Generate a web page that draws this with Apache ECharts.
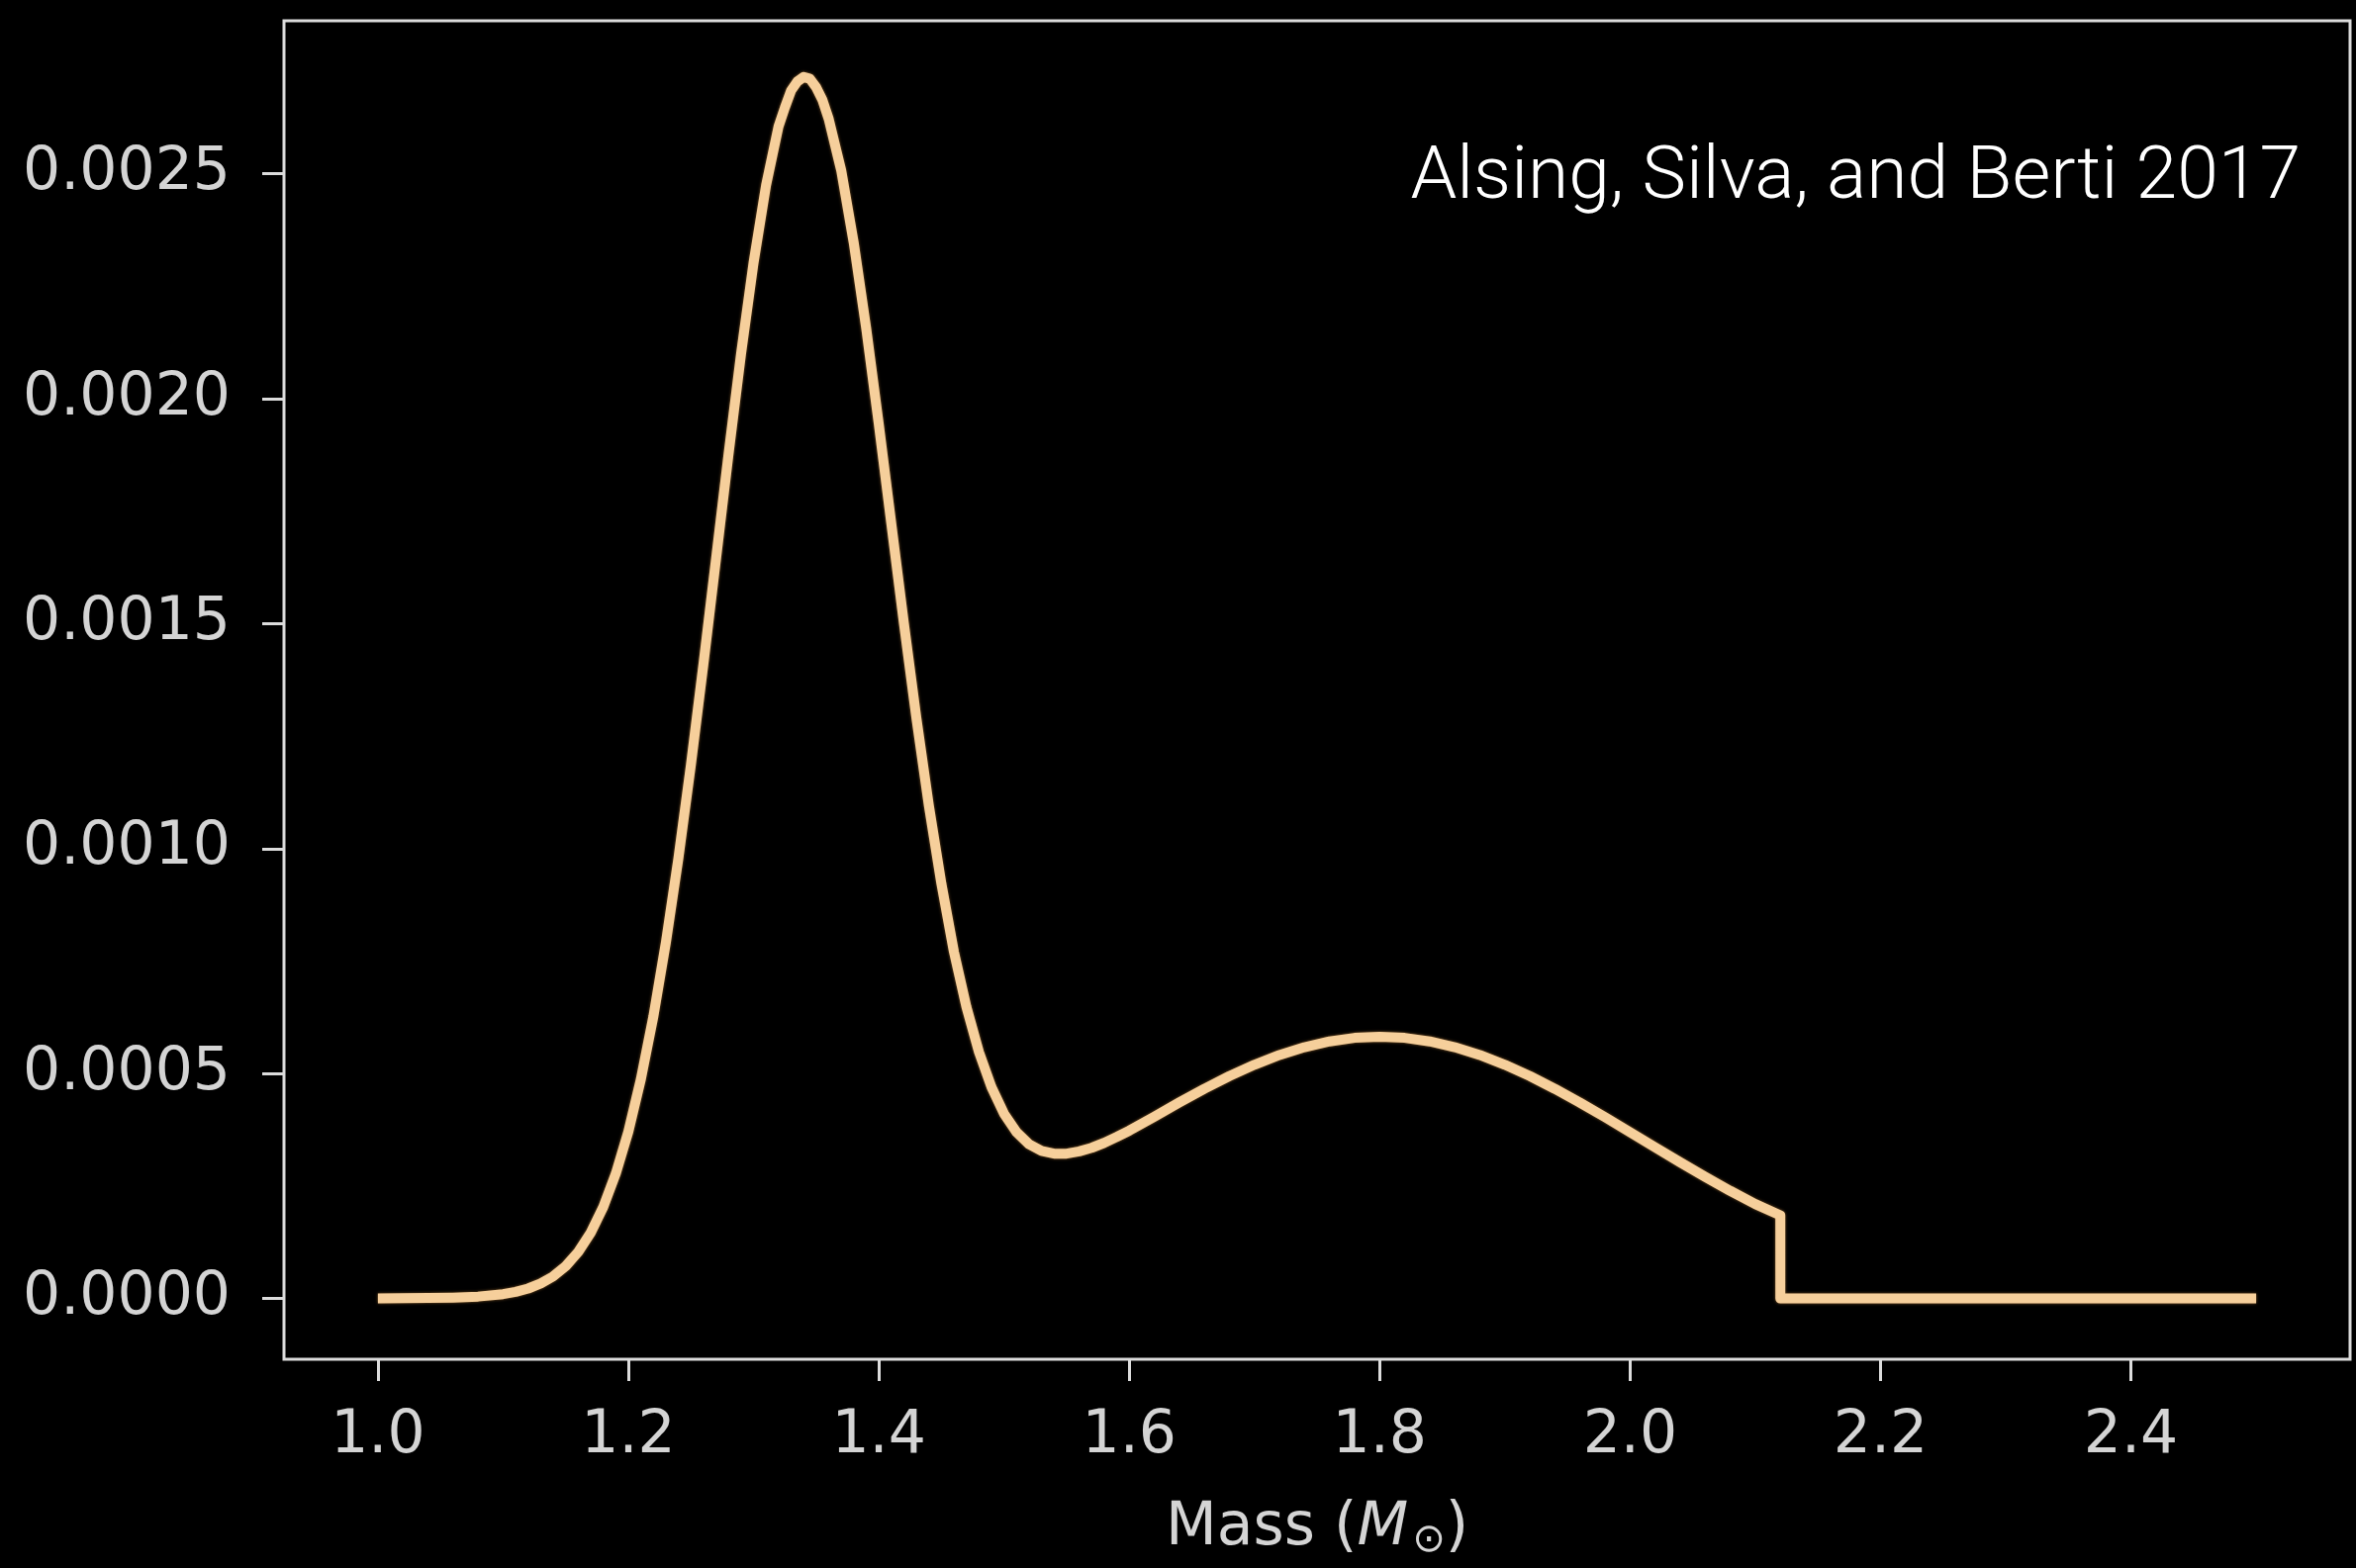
<!DOCTYPE html>
<html>
<head>
<meta charset="utf-8">
<script src="https://cdn.jsdelivr.net/npm/echarts@6/dist/echarts.min.js"></script>
<style>
  html, body { margin: 0; padding: 0; background: #000; }
  #chart { width: 2381px; height: 1585px; }
</style>
</head>
<body>
<div id="chart"></div>
<script>
// Neutron-star mass distribution: sampled mass grid (solar masses)
const mass = [
  1.00, 1.02, 1.04, 1.06, 1.08, 1.10,
  1.11, 1.12, 1.13, 1.14, 1.15, 1.16, 1.17, 1.18, 1.19, 1.20,
  1.21, 1.22, 1.23, 1.24, 1.25, 1.26, 1.27, 1.28, 1.29, 1.30,
  1.31, 1.32, 1.325, 1.33, 1.335, 1.34, 1.345, 1.35, 1.355, 1.36, 1.37, 1.38, 1.39, 1.40,
  1.41, 1.42, 1.43, 1.44, 1.45, 1.46, 1.47, 1.48, 1.49, 1.50,
  1.51, 1.52, 1.53, 1.54, 1.55, 1.56, 1.57, 1.58, 1.59, 1.60,
  1.62, 1.64, 1.66, 1.68, 1.70, 1.72, 1.74, 1.76, 1.78, 1.80,
  1.82, 1.84, 1.86, 1.88, 1.90, 1.92, 1.94, 1.96, 1.98, 2.00,
  2.02, 2.04, 2.06, 2.08, 2.10, 2.12, 2.12, 2.50
];

// Probability density at each mass
const density = [
  0.0000004, 0.0000007, 0.0000011, 0.0000021, 0.0000043, 0.0000097,
  0.0000147, 0.0000222, 0.0000333, 0.0000492, 0.0000719, 0.0001036, 0.0001465, 0.0002035, 0.0002776, 0.0003708,
  0.0004872, 0.0006268, 0.0007916, 0.0009786, 0.0011869, 0.0014104, 0.0016431, 0.0018761, 0.0020995, 0.0023022,
  0.0024743, 0.0026057, 0.0026470, 0.0026850, 0.0027050, 0.0027150, 0.0027110, 0.0026920, 0.0026640, 0.0026220, 0.0025075, 0.0023468, 0.0021555, 0.0019439,
  0.0017228, 0.0015022, 0.0012913, 0.0010959, 0.0009222, 0.0007709, 0.0006480, 0.0005480, 0.0004700, 0.0004110,
  0.0003700, 0.0003430, 0.0003280, 0.0003220, 0.0003220, 0.0003270, 0.0003350, 0.0003460, 0.0003590, 0.0003730,
  0.0004040, 0.0004357, 0.0004661, 0.0004943, 0.0005196, 0.0005413, 0.0005587, 0.0005715, 0.0005794, 0.0005820,
  0.0005794, 0.0005715, 0.0005587, 0.0005413, 0.0005196, 0.0004943, 0.0004660, 0.0004354, 0.0004031, 0.0003698,
  0.0003362, 0.0003029, 0.0002705, 0.0002393, 0.0002098, 0.0001850, 0, 0
];

// Tick positions on each axis
const xTicks = [1.0, 1.2, 1.4, 1.6, 1.8, 2.0, 2.2, 2.4];
const yTicks = [0, 0.0005, 0.0010, 0.0015, 0.0020, 0.0025];

const citation = 'Alsing, Silva, and Berti 2017';

const points = mass.map((m, i) => [m, density[i]]);

const frameColor = '#dcdcdc';
const labelColor = '#d4d4d4';
const tickFont = 'DejaVu Sans';

const chart = echarts.init(document.getElementById('chart'), null, { renderer: 'canvas' });

chart.setOption({
  backgroundColor: '#000',
  animation: false,
  grid: {
    left: 287, right: 6, top: 21, bottom: 211,
    show: true,
    borderColor: frameColor,
    borderWidth: 3,
    backgroundColor: 'transparent'
  },
  xAxis: {
    type: 'value',
    min: 0.925,
    max: 2.575,
    axisLine: { show: false, onZero: false },
    splitLine: { show: false },
    axisTick: {
      show: true,
      inside: false,
      customValues: xTicks,
      length: 22,
      lineStyle: { color: frameColor, width: 3 }
    },
    axisLabel: {
      customValues: xTicks,
      formatter: v => v.toFixed(1),
      color: labelColor,
      fontFamily: tickFont,
      fontSize: 60,
      margin: 48
    },
    name: 'Mass ({it|M}{sub|⊙})',
    nameLocation: 'middle',
    nameGap: 138,
    nameTextStyle: {
      color: labelColor,
      fontFamily: tickFont,
      fontSize: 60,
      rich: {
        it: { fontFamily: tickFont, fontStyle: 'italic', fontSize: 60, color: labelColor },
        sub: { fontFamily: tickFont, fontSize: 40, color: labelColor, padding: [26, 0, 0, 4] }
      }
    }
  },
  yAxis: {
    type: 'value',
    min: -0.000135,
    max: 0.00284,
    axisLine: { show: false, onZero: false },
    splitLine: { show: false },
    axisTick: {
      show: true,
      inside: false,
      customValues: yTicks,
      length: 22,
      lineStyle: { color: frameColor, width: 3 }
    },
    axisLabel: {
      customValues: yTicks,
      formatter: v => v.toFixed(4),
      color: labelColor,
      fontFamily: tickFont,
      fontSize: 60,
      margin: 54
    }
  },
  series: [{
    type: 'line',
    data: points,
    showSymbol: false,
    smooth: false,
    clip: true,
    lineStyle: {
      color: '#f6cf9b',
      width: 10,
      join: 'round',
      shadowColor: 'rgba(190, 130, 60, 0.7)',
      shadowBlur: 3
    }
  }],
  graphic: [{
    type: 'text',
    right: 56,
    top: 144,
    style: {
      text: citation,
      fill: '#ffffff',
      font: '300 75px Roboto'
    }
  }]
});
</script>
</body>
</html>
